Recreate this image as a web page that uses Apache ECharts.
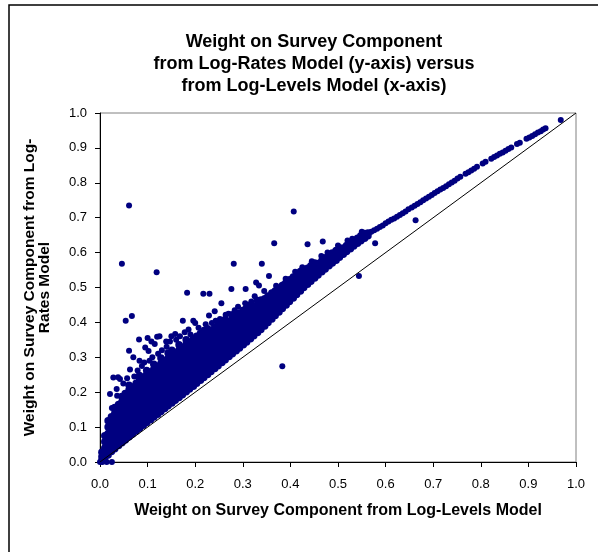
<!DOCTYPE html>
<html><head><meta charset="utf-8">
<script src="https://cdn.jsdelivr.net/npm/echarts@6/dist/echarts.min.js"></script>
<style>html,body{margin:0;padding:0;background:#fff}#c{width:598px;height:552px}</style>
</head><body><div id="c"></div>
<script>
// ---------- DATA ----------
const titleLines = ['Weight on Survey Component', 'from Log-Rates Model (y-axis) versus', 'from Log-Levels Model (x-axis)'];
const xName = 'Weight on Survey Component from Log-Levels Model';
const yName = 'Weight on Survey Component from Log-\nRates Model';
const tickLabels = ['0.0','0.1','0.2','0.3','0.4','0.5','0.6','0.7','0.8','0.9','1.0'];

// dense band, read column by column: [x, [y values]]
const bandColumns = [
  [0.004,[0.004,0.015,0.028]],
  [0.010,[0.012,0.025,0.04,0.058,0.075]],
  [0.017,[0.02,0.034,0.05,0.066,0.082,0.1,0.118]],
  [0.024,[0.03,0.045,0.06,0.078,0.095,0.112,0.13]],
  [0.031,[0.038,0.053,0.069,0.086,0.104,0.121,0.14,0.156]],
  [0.039,[0.047,0.062,0.078,0.095,0.112,0.13,0.147,0.165]],
  [0.046,[0.055,0.07,0.087,0.104,0.121,0.139,0.156,0.172,0.188]],
  [0.053,[0.063,0.079,0.096,0.113,0.13,0.148,0.165,0.182,0.196]],
  [0.061,[0.072,0.088,0.105,0.122,0.139,0.157,0.174,0.19,0.206,0.22]],
  [0.068,[0.08,0.097,0.114,0.131,0.148,0.166,0.183,0.2,0.215]],
  [0.076,[0.089,0.106,0.123,0.14,0.157,0.175,0.192,0.209,0.226]],
  [0.083,[0.097,0.114,0.131,0.148,0.165,0.183,0.2,0.218,0.235,0.248]],
  [0.091,[0.105,0.122,0.139,0.156,0.173,0.191,0.208,0.226,0.243]],
  [0.098,[0.113,0.13,0.147,0.164,0.181,0.199,0.216,0.234,0.25,0.262]],
  [0.106,[0.121,0.138,0.155,0.172,0.189,0.207,0.224,0.241,0.258]],
  [0.113,[0.129,0.146,0.163,0.18,0.197,0.215,0.232,0.249,0.266,0.28]],
  [0.121,[0.137,0.154,0.171,0.188,0.205,0.222,0.24,0.257,0.274]],
  [0.128,[0.145,0.162,0.179,0.196,0.213,0.23,0.248,0.265,0.282,0.298]],
  [0.136,[0.153,0.17,0.187,0.204,0.221,0.238,0.256,0.273,0.29]],
  [0.143,[0.161,0.178,0.195,0.212,0.229,0.246,0.263,0.28,0.297,0.312]],
  [0.151,[0.169,0.186,0.203,0.22,0.237,0.254,0.271,0.288,0.305,0.32]],
  [0.158,[0.177,0.194,0.211,0.228,0.245,0.262,0.279,0.296,0.313]],
  [0.166,[0.185,0.202,0.219,0.236,0.253,0.27,0.287,0.304,0.321,0.336]],
  [0.173,[0.193,0.21,0.227,0.244,0.261,0.278,0.295,0.312,0.329]],
  [0.181,[0.201,0.218,0.235,0.252,0.269,0.286,0.303,0.32,0.337,0.35]],
  [0.188,[0.209,0.226,0.243,0.26,0.277,0.294,0.311,0.328,0.344]],
  [0.196,[0.217,0.234,0.251,0.268,0.285,0.302,0.319,0.336,0.352]],
  [0.203,[0.226,0.243,0.26,0.277,0.294,0.311,0.328,0.345,0.36]],
  [0.211,[0.234,0.251,0.268,0.285,0.302,0.319,0.336,0.352,0.368]],
  [0.218,[0.242,0.259,0.276,0.293,0.31,0.327,0.344,0.36]],
  [0.226,[0.251,0.268,0.285,0.302,0.319,0.336,0.353,0.37,0.382]],
  [0.233,[0.259,0.276,0.293,0.31,0.327,0.344,0.361,0.377]],
  [0.241,[0.268,0.285,0.302,0.319,0.336,0.353,0.37,0.386]],
  [0.248,[0.276,0.293,0.31,0.327,0.344,0.361,0.378,0.394]],
  [0.256,[0.285,0.302,0.319,0.336,0.353,0.37,0.387,0.4]],
  [0.263,[0.293,0.31,0.327,0.344,0.361,0.378,0.394,0.408]],
  [0.271,[0.302,0.319,0.336,0.353,0.37,0.387,0.403]],
  [0.278,[0.31,0.327,0.344,0.361,0.378,0.395,0.41,0.422]],
  [0.286,[0.319,0.336,0.353,0.37,0.387,0.404,0.418]],
  [0.293,[0.327,0.344,0.361,0.378,0.395,0.412,0.427]],
  [0.301,[0.336,0.353,0.37,0.387,0.404,0.42,0.435]],
  [0.308,[0.344,0.361,0.378,0.395,0.412,0.428,0.442]],
  [0.316,[0.353,0.37,0.387,0.404,0.42,0.436,0.45]],
  [0.323,[0.362,0.379,0.396,0.412,0.428,0.444]],
  [0.331,[0.371,0.388,0.404,0.42,0.436,0.452,0.463]],
  [0.338,[0.38,0.397,0.413,0.429,0.445,0.46]],
  [0.346,[0.39,0.406,0.422,0.438,0.453,0.468]],
  [0.353,[0.4,0.416,0.431,0.446,0.461,0.476]],
  [0.361,[0.41,0.425,0.44,0.455,0.47,0.484]],
  [0.368,[0.42,0.435,0.45,0.464,0.478,0.49]],
  [0.376,[0.43,0.445,0.459,0.473,0.487,0.498]],
  [0.383,[0.44,0.454,0.468,0.482,0.495,0.506]],
  [0.391,[0.45,0.464,0.478,0.491,0.504,0.514]],
  [0.398,[0.46,0.474,0.487,0.5,0.512,0.522]],
  [0.406,[0.47,0.484,0.497,0.509,0.52,0.53]],
  [0.413,[0.48,0.494,0.506,0.518,0.529,0.538]],
  [0.421,[0.49,0.503,0.515,0.527,0.538,0.546]],
  [0.428,[0.5,0.512,0.524,0.536,0.547]],
  [0.436,[0.509,0.521,0.533,0.545,0.555]],
  [0.443,[0.518,0.53,0.542,0.553,0.562]],
  [0.451,[0.527,0.539,0.551,0.561,0.57]],
  [0.458,[0.536,0.548,0.559,0.569]],
  [0.466,[0.545,0.557,0.568,0.577]],
  [0.473,[0.553,0.565,0.576,0.585]],
  [0.481,[0.562,0.573,0.583,0.592]],
  [0.488,[0.57,0.581,0.591,0.599]],
  [0.496,[0.578,0.589,0.598,0.606]],
  [0.503,[0.587,0.597,0.606,0.613]],
  [0.511,[0.595,0.605,0.613]],
  [0.518,[0.603,0.612,0.62]],
  [0.526,[0.611,0.62,0.627]],
  [0.533,[0.619,0.627,0.634]],
  [0.541,[0.627,0.634,0.641]],
  [0.548,[0.634,0.641,0.648]],
  [0.556,[0.641,0.648,0.655]],
  [0.563,[0.648,0.656]]
];

// thin upper trend of points
const trendPoints = [
  [0.570,0.660],[0.576,0.664],[0.582,0.668],[0.588,0.673],[0.594,0.678],[0.600,0.684],[0.606,0.689],
  [0.612,0.694],[0.618,0.698],[0.624,0.703],[0.630,0.708],[0.636,0.713],[0.642,0.718],[0.648,0.724],
  [0.655,0.729],[0.661,0.734],[0.667,0.739],[0.673,0.744],[0.679,0.750],[0.685,0.755],[0.691,0.760],
  [0.697,0.765],[0.703,0.771],[0.709,0.776],[0.715,0.781],[0.721,0.785],[0.727,0.790],[0.733,0.796],
  [0.739,0.801],[0.745,0.806],[0.751,0.812],[0.757,0.817],[0.768,0.826],[0.774,0.830],[0.780,0.835],
  [0.786,0.840],[0.792,0.846],[0.804,0.855],[0.810,0.860],[0.822,0.869],[0.828,0.874],[0.834,0.878],
  [0.840,0.883],[0.846,0.887],[0.852,0.892],[0.858,0.897],[0.864,0.901],[0.876,0.911],[0.882,0.915],
  [0.896,0.926],[0.902,0.930],[0.908,0.934],[0.914,0.939],[0.920,0.944],[0.926,0.948],[0.931,0.953],
  [0.936,0.956],[0.968,0.980]
];

// scattered points away from the band
const scatterPoints = [
  [0.061,0.735],[0.046,0.568],[0.119,0.544],[0.407,0.718],[0.366,0.627],[0.436,0.624],[0.468,0.632],
  [0.578,0.627],[0.281,0.568],[0.340,0.568],[0.454,0.568],[0.663,0.693],[0.544,0.533],[0.383,0.274],
  [0.183,0.485],[0.217,0.482],[0.230,0.482],[0.276,0.496],[0.306,0.496],[0.328,0.514],[0.334,0.506],
  [0.355,0.533],[0.338,0.466],[0.359,0.477],[0.255,0.455],[0.241,0.432],[0.229,0.420],[0.243,0.405],
  [0.264,0.422],[0.054,0.405],[0.067,0.418],[0.061,0.319],[0.082,0.351],[0.100,0.355],[0.095,0.328],
  [0.120,0.359],[0.115,0.338],[0.125,0.360],[0.158,0.367],[0.174,0.405],[0.196,0.405],[0.200,0.398],
  [0.218,0.379],[0.197,0.218],[0.028,0.242],[0.038,0.243],[0.042,0.238],[0.021,0.195],[0.035,0.209],
  [0.025,0.155],[0.036,0.190],[0.046,0.180],[0.025,0.0],[0.014,0.0],[0.005,0.0],[0.0,0.0],
  [0.399,0.506],[0.386,0.510],
  [0.072,0.245],[0.079,0.262],[0.088,0.275],[0.093,0.285],[0.104,0.290],[0.110,0.300],[0.122,0.310],
  [0.130,0.320],[0.140,0.330],[0.147,0.345],[0.160,0.350],[0.168,0.360],[0.178,0.372],[0.186,0.380],
  [0.190,0.365],[0.207,0.385],[0.222,0.395],[0.235,0.398],[0.252,0.410],[0.270,0.425],[0.283,0.435],
  [0.290,0.445],[0.305,0.455],[0.318,0.460],[0.325,0.475],[0.345,0.490],[0.370,0.505],[0.390,0.525],
  [0.410,0.545],[0.425,0.558],[0.445,0.575],[0.465,0.590],[0.478,0.600],[0.500,0.620],[0.520,0.635],
  [0.530,0.640],[0.550,0.660],[0.102,0.318],[0.108,0.345],[0.139,0.345],[0.150,0.360],[0.083,0.290],
  [0.063,0.265],[0.057,0.240],[0.049,0.225],[0.070,0.300]
];

const diagonal = [[0,0],[1,1]];

// ---------- BUILD ----------
const bandPoints = [];
bandColumns.forEach(c => c[1].forEach(y => bandPoints.push([c[0], y])));
const otherPoints = trendPoints.concat(scatterPoints);

const FONT = "'Liberation Sans', Arial, sans-serif";
const NAVY = '#000080';
const chart = echarts.init(document.getElementById('c'), null, {renderer: 'canvas'});
chart.setOption({
  animation: false,
  backgroundColor: '#ffffff',
  title: {
    text: titleLines.join('\n'),
    left: 309, top: 26, textAlign: 'center',
    textStyle: {fontFamily: FONT, fontWeight: 'bold', fontSize: 18, lineHeight: 22, color: '#000'}
  },
  graphic: [{
    type: 'rect', shape: {x: 9, y: 5, width: 700, height: 700},
    style: {fill: 'none', stroke: '#000', lineWidth: 1.5}, silent: true, z: -10
  }],
  grid: {left: 100, right: 22, top: 113, bottom: 90, show: true, borderColor: '#808080', borderWidth: 1, backgroundColor: 'transparent'},
  xAxis: {
    type: 'value', min: 0, max: 1, interval: 0.1,
    name: xName, nameLocation: 'middle', nameGap: 41,
    nameTextStyle: {fontFamily: FONT, fontWeight: 'bold', fontSize: 16, color: '#000'},
    axisLine: {show: true, onZero: false, lineStyle: {color: '#000', width: 1}},
    axisTick: {show: true, inside: false, length: 5, lineStyle: {color: '#000'}},
    axisLabel: {fontFamily: FONT, fontSize: 13, color: '#000', margin: 16,
      formatter: (v) => tickLabels[Math.round(v * 10)]},
    splitLine: {show: false}
  },
  yAxis: {
    type: 'value', min: 0, max: 1, interval: 0.1,
    name: yName, nameLocation: 'middle', nameGap: 48, nameRotate: 90,
    nameTextStyle: {fontFamily: FONT, fontWeight: 'bold', fontSize: 15.5, lineHeight: 15, color: '#000', align: 'center'},
    axisLine: {show: true, onZero: false, lineStyle: {color: '#000', width: 1}},
    axisTick: {show: true, inside: false, length: 5, lineStyle: {color: '#000'}},
    axisLabel: {fontFamily: FONT, fontSize: 13, color: '#000', margin: 13,
      formatter: (v) => tickLabels[Math.round(v * 10)]},
    splitLine: {show: false}
  },
  series: [
    {
      type: 'scatter', data: bandPoints, symbol: 'circle', symbolSize: 7.5,
      itemStyle: {color: NAVY, opacity: 1}, z: 2, silent: true
    },
    {
      type: 'scatter', data: otherPoints, symbol: 'circle', symbolSize: 6,
      itemStyle: {color: NAVY, opacity: 1}, z: 2, silent: true
    },
    {
      type: 'line', data: diagonal, showSymbol: false, symbol: 'none',
      lineStyle: {color: '#000', width: 1}, z: 3, silent: true
    }
  ]
});
</script></body></html>
